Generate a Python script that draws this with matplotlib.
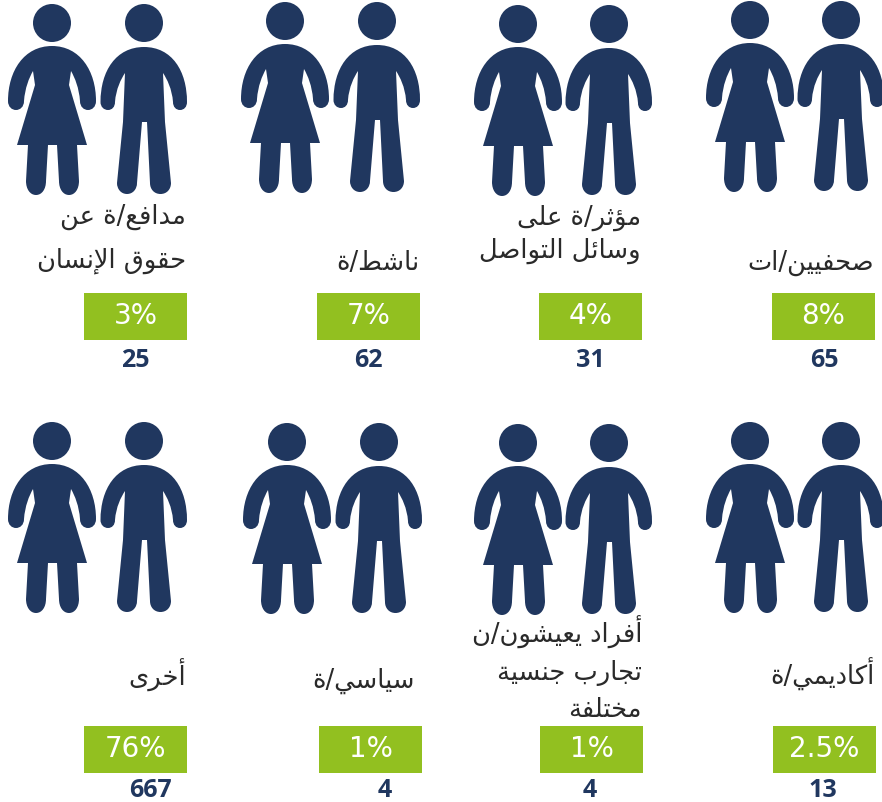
import unicodedata
import matplotlib
matplotlib.use("Agg")
import matplotlib.pyplot as plt
from matplotlib.patches import Circle, PathPatch, Rectangle
from matplotlib.path import Path

# top row then bottom row, left to right
labels = [
    ["مدافع/ة عن", "حقوق الإنسان"],
    ["ناشط/ة"],
    ["مؤثر/ة على", "وسائل التواصل"],
    ["صحفيين/ات"],
    ["أخرى"],
    ["سياسي/ة"],
    ["أفراد يعيشون/ن", "تجارب جنسية", "مختلفة"],
    ["أكاديمي/ة"],
]
percents = ["3%", "7%", "4%", "8%", "76%", "1%", "1%", "2.5%"]
counts = ["25", "62", "31", "65", "667", "4", "4", "13"]

# layout, in pixels of the reference
woman_x = [52, 285, 518, 750, 52, 287, 518, 750]
man_x = [144, 377, 609, 841, 144, 379, 609, 841]
head_y = [24, 22, 25, 21, 442, 443, 444, 442]
box_x = [84, 317, 539, 772, 84, 319, 540, 773]
box_y = [294, 294, 294, 294, 727, 727, 727, 727]
text_right = [186, 419, 641, 874, 186, 415, 642, 875]
count_x = [135, 368, 590, 824, 150, 385, 590, 823]
count_y = [367, 367, 367, 367, 797, 797, 797, 797]
baselines = [
    [224, 268], [270], [225, 258], [270],
    [686], [688], [643, 680, 717], [685],
]

navy = "#20375f"
green = "#92c020"
dark = "#2a2a2a"


# matplotlib does not shape arabic, so pick the presentation forms by hand
forms = {}
for cp in list(range(0xFE70, 0xFEFD)):
    parts = unicodedata.decomposition(chr(cp)).split()
    if len(parts) >= 2 and parts[0] in ("<isolated>", "<final>", "<initial>", "<medial>"):
        key = "".join(chr(int(p, 16)) for p in parts[1:])
        forms.setdefault(key, {})[parts[0].strip("<>")] = chr(cp)


def shape(text):
    # lam + alef ligatures are treated as one right joining letter
    units = []
    i = 0
    while i < len(text):
        if text[i:i + 2] in forms:
            units.append(text[i:i + 2])
            i += 2
        else:
            units.append(text[i])
            i += 1
    out = []
    for i, u in enumerate(units):
        f = forms.get(u)
        if not f:
            out.append(u)
            continue
        prev = forms.get(units[i - 1]) if i > 0 else None
        nxt = forms.get(units[i + 1]) if i + 1 < len(units) else None
        joins_prev = bool(prev and "initial" in prev and "final" in f)
        joins_next = bool(nxt and "final" in nxt and "initial" in f)
        if joins_prev and joins_next:
            out.append(f["medial"])
        elif joins_prev:
            out.append(f["final"])
        elif joins_next:
            out.append(f["initial"])
        else:
            out.append(f.get("isolated", u))
    return "".join(reversed(out))


def make_path(cmds):
    verts = []
    codes = []
    for c in cmds:
        if len(c) == 1:
            verts.append(c[0])
            codes.append(Path.LINETO)
        else:
            verts.extend(c)
            codes.extend([Path.CURVE4] * 3)
    codes[0] = Path.MOVETO
    verts.append(verts[0])
    codes.append(Path.CLOSEPOLY)
    return verts, codes


# outlines relative to the head centre: x from head, y from head centre
woman_outline = [
    [(0, 23)],
    [(-28, 23), (-44, 48), (-44, 78)],
    [(-44, 84), (-40, 87), (-36, 87)],
    [(-32, 87), (-28, 84), (-28, 78)],
    [(-27, 65), (-23, 55), (-19, 48)],
    [(-17, 62)],
    [(-35, 122)],
    [(-24, 122)],
    [(-26, 158)],
    [(-26, 166), (-22, 172), (-16, 172)],
    [(-10, 172), (-6, 166), (-6, 158)],
    [(-4, 122)],
    [(5, 122)],
    [(7, 158)],
    [(7, 166), (11, 172), (17, 172)],
    [(23, 172), (27, 166), (27, 158)],
    [(25, 122)],
    [(35, 122)],
    [(17, 62)],
    [(19, 48)],
    [(23, 55), (27, 65), (28, 78)],
    [(28, 84), (32, 87), (36, 87)],
    [(40, 87), (44, 84), (44, 78)],
    [(44, 48), (28, 23), (0, 23)],
]
man_outline = [
    [(0, 24)],
    [(-28, 24), (-43.5, 48), (-43.5, 79)],
    [(-43.5, 84), (-40, 87), (-36, 87)],
    [(-32, 87), (-29, 84), (-29, 79)],
    [(-28, 66), (-23, 56), (-19, 50)],
    [(-21, 99)],
    [(-27, 160)],
    [(-27, 166), (-23, 171), (-17, 171)],
    [(-11, 171), (-7, 166), (-7, 160)],
    [(-2, 99)],
    [(3, 99)],
    [(6, 160)],
    [(6, 166), (10, 171), (16.5, 171)],
    [(23, 171), (27, 166), (27, 160)],
    [(21, 99)],
    [(19, 50)],
    [(23, 56), (28, 66), (29, 79)],
    [(29, 84), (32, 87), (36, 87)],
    [(40, 87), (43, 84), (43, 79)],
    [(43, 48), (28, 24), (0, 24)],
]


def draw_person(ax, outline, x, y):
    verts, codes = make_path(outline)
    moved = [(vx + x, vy + y) for vx, vy in verts]
    ax.add_patch(PathPatch(Path(moved, codes), fc=navy, ec="none"))
    ax.add_patch(Circle((x, y), 19, fc=navy, ec="none"))


fig = plt.figure(figsize=(8.82, 8.03), dpi=100)
ax = fig.add_axes([0, 0, 1, 1])
ax.set_xlim(0, 882)
ax.set_ylim(803, 0)
ax.axis("off")

for i in range(len(labels)):
    draw_person(ax, woman_outline, woman_x[i], head_y[i])
    draw_person(ax, man_outline, man_x[i], head_y[i])

    for line, base in zip(labels[i], baselines[i]):
        ax.text(text_right[i], base, shape(line), ha="right", va="baseline",
                fontsize=18.5, color=dark, family="DejaVu Sans")

    ax.add_patch(Rectangle((box_x[i], box_y[i]), 103, 47, fc=green, ec="none"))
    ax.text(box_x[i] + 51.5, box_y[i] + 30, percents[i], ha="center", va="baseline",
            fontsize=20, color="white", family="DejaVu Sans")
    ax.text(count_x[i], count_y[i], counts[i], ha="center", va="baseline",
            fontsize=18, color=navy, family="Open Sans", fontweight="bold")

plt.savefig("out.png", dpi=100)
